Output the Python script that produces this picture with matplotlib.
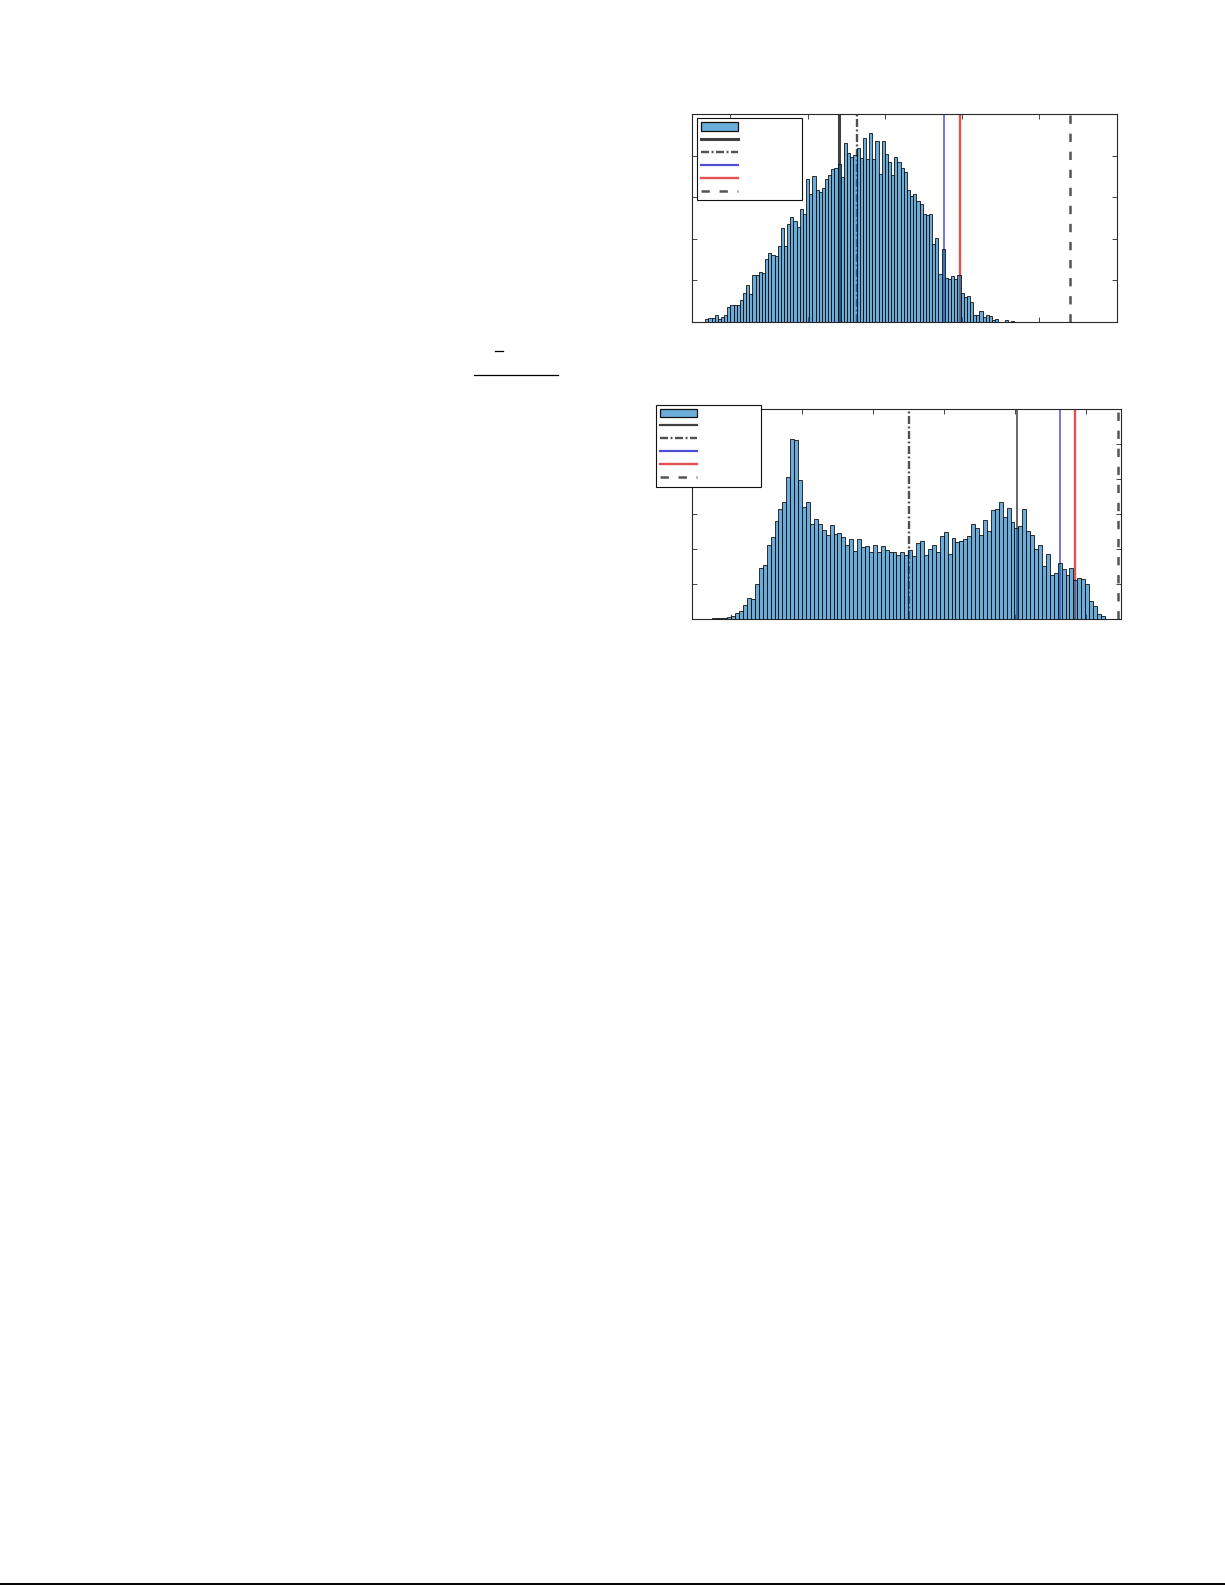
import numpy as np
import matplotlib
matplotlib.use("Agg")
import matplotlib.pyplot as plt
from matplotlib.lines import Line2D
from matplotlib.patches import Patch

# histogram heights (top panel)
top_counts = [0.064, 0.088, 0.104, 0.18, 0.064, 0.128, 0.18, 0.37, 0.42, 0.42,
              0.42, 0.54, 0.70, 0.88, 0.68, 1.12, 1.12, 1.21, 1.19, 1.51,
              1.67, 1.61, 1.58, 1.83, 2.27, 1.83, 2.36, 2.53, 2.44, 2.29,
              2.72, 2.60, 3.45, 3.07, 3.52, 3.17, 3.12, 3.23, 3.45, 3.53,
              3.69, 3.71, 3.81, 3.49, 4.30, 4.07, 3.97, 4.01, 4.19, 3.95,
              4.42, 3.91, 4.54, 3.91, 4.36, 3.55, 4.36, 4.05, 3.85, 3.53,
              3.96, 3.84, 3.71, 3.60, 3.17, 3.03, 3.08, 2.91, 2.84, 2.61,
              2.57, 2.61, 1.88, 2.01, 1.15, 1.75, 1.07, 1.03, 1.11, 1.03,
              1.13, 0.69, 0.61, 0.63, 0.49, 0.18, 0.17, 0.27, 0.13, 0.17,
              0.14, 0.05, 0.064, 0.01, 0.0, 0.04, 0.0, 0.016]
top_bin_start = 0.674
top_bin_width = 0.0408
# vertical markers: solid, dash-dot, blue, red, dashed
top_marks = [2.41, 2.636, 3.77, 3.973, 5.396]

# bottom panel
bottom_counts = [0.02, 0.02, 0.02, 0.02,
                 0.067, 0.086, 0.162, 0.219, 0.39, 0.59, 0.56, 0.99, 1.45, 1.53,
                 2.10, 2.33, 2.79, 3.13, 3.33, 4.05, 5.13, 5.10, 3.96, 3.19,
                 3.33, 2.70, 2.85, 2.70, 2.54, 2.39, 2.68,
                 2.42, 2.45, 2.33, 2.10, 2.28, 1.93, 2.28, 2.05, 2.08, 1.90,
                 2.10, 1.90, 2.08, 1.96, 1.90, 1.90, 1.84, 1.90, 1.82, 1.96,
                 1.79, 2.18, 2.22, 1.82, 1.99, 2.12, 1.90, 2.36, 2.47, 1.85,
                 2.30, 2.19, 2.22, 2.28, 2.36, 2.70,
                 2.59, 2.40, 2.82, 2.51, 3.10, 3.13, 3.35, 2.90, 3.18, 2.78,
                 2.61, 2.65, 3.13, 2.51, 2.40, 1.99, 2.10, 1.50, 1.85, 1.26,
                 1.30, 1.59, 1.43, 1.25, 1.45, 1.11, 1.16, 1.14, 0.99, 0.50,
                 0.36, 0.13, 0.08]
bottom_bin_start = -0.267
bottom_bin_width = 0.0554
bottom_marks = [4.03, 2.51, 4.64, 4.856, 5.46]

bar_face = (0.0, 0.447, 0.741, 0.58)


def draw_panel(ax, counts, start, width, marks, lws, xlim, ylim, xticks, yticks,
               leg_anchor):
    edges = start + width * np.arange(len(counts))
    ax.bar(edges, counts, width=width, align='edge', facecolor=bar_face,
           edgecolor='#111111', linewidth=0.6, zorder=3)

    styles = [
        dict(color='#404040', linestyle='-'),
        dict(color='#505050', linestyle=(0, (5.8, 1.8, 1.4, 1.8))),
        dict(color='#4f4fcf', linestyle='-'),
        dict(color='#e25252', linestyle='-'),
        dict(color='#555555', linestyle=(0, (6.0, 7.0))),
    ]
    handles = [Patch(facecolor=bar_face, edgecolor='#111111', linewidth=0.9)]
    for x, st, lw in zip(marks, styles, lws):
        # dash lengths get scaled by linewidth, so divide to keep them absolute
        ls = st['linestyle']
        hlw = max(lw, 1.6)
        if isinstance(ls, tuple):
            pls = (0, tuple(v / lw for v in ls[1]))
            hls = (0, tuple(v / hlw for v in ls[1]))
        else:
            pls = hls = ls
        ax.axvline(x, color=st['color'], linestyle=pls, linewidth=lw, zorder=2)
        handles.append(Line2D([], [], color=st['color'], linestyle=hls,
                              linewidth=hlw))

    ax.set_xlim(*xlim)
    ax.set_ylim(*ylim)
    ax.set_xticks(xticks)
    ax.set_yticks(yticks)
    ax.tick_params(direction='in', length=3.5, width=0.6, top=True, right=True,
                   labelbottom=False, labelleft=False, color='#262626')
    for sp in ax.spines.values():
        sp.set_linewidth(0.8)
        sp.set_color('#262626')

    leg = ax.legend(handles, [''] * len(handles), loc='upper left',
                    bbox_to_anchor=leg_anchor, borderaxespad=0, fontsize=6,
                    handlelength=4.4, handleheight=1.2, handletextpad=7.2,
                    labelspacing=0.47, borderpad=0.5, fancybox=False,
                    framealpha=1, edgecolor='#111111')
    leg.get_frame().set_linewidth(0.8)
    leg.set_zorder(5)


fig = plt.figure(figsize=(12.25, 15.85), dpi=100)

ax1 = fig.add_axes([0.5647, 0.7968, 0.3469, 0.1312])
draw_panel(ax1, top_counts, top_bin_start, top_bin_width, top_marks,
           [2.2, 1.7, 1.1, 1.7, 1.8], (0.5, 6.0), (0, 5),
           [1, 2, 3, 4, 5], [1, 2, 3, 4], (0.0125, 0.981))

ax2 = fig.add_axes([0.5651, 0.6095, 0.35, 0.1325])
draw_panel(ax2, bottom_counts, bottom_bin_start, bottom_bin_width, bottom_marks,
           [1.1, 1.7, 1.1, 1.7, 1.8], (-0.54, 5.5), (0, 6),
           [0, 1, 2, 3, 4, 5], [1, 2, 3, 4, 5], (-0.084, 1.02))

# leftover page marks (equation bars and bottom rule)
fig.add_artist(Line2D([495 / 1225, 503 / 1225], [1 - 351.3 / 1585] * 2,
                      color='k', linewidth=0.9))
fig.add_artist(Line2D([474.3 / 1225, 557.7 / 1225], [1 - 375.3 / 1585] * 2,
                      color='k', linewidth=0.9))
fig.add_artist(Line2D([0, 1], [1 - 1584 / 1585] * 2, color='k', linewidth=1.4))

fig.savefig('out.png', dpi=100)
